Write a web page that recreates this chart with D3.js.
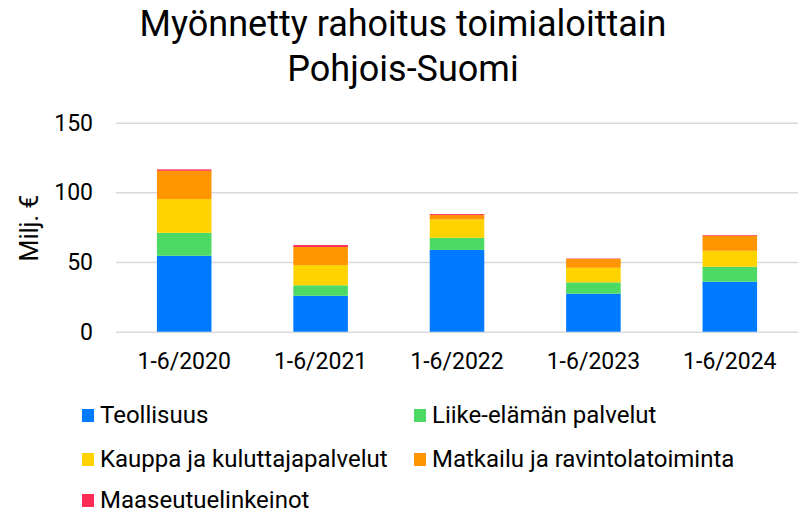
<!DOCTYPE html>
<html>
<head>
  <meta charset="UTF-8">
  <title>Myönnetty rahoitus toimialoittain</title>
  <style>
    body { margin: 0; padding: 0; background: #fff; font-family: Roboto, Arial, sans-serif; }
    svg { display: block; }
  </style>
</head>
<body>
  <svg width="802" height="514"></svg>

  <script src="https://d3js.org/d3.v7.min.js"></script>
  <script>
    // data (milj. €)
    let periods = ["1-6/2020", "1-6/2021", "1-6/2022", "1-6/2023", "1-6/2024"];
    let sectors = ["Teollisuus", "Liike-elämän palvelut", "Kauppa ja kuluttajapalvelut",
                   "Matkailu ja ravintolatoiminta", "Maaseutuelinkeinot"];
    let teollisuus = [54.5, 25.8, 58.7, 27.3, 35.9];
    let liike      = [16.5, 7.5, 8.7, 8.1, 10.7];
    let kauppa     = [24.2, 14.5, 13.2, 10.5, 11.5];
    let matkailu   = [20.3, 13.0, 3.1, 6.3, 10.8];
    let maaseutu   = [1.0, 1.4, 0.7, 0.3, 0.5];
    let yTicks = [0, 50, 100, 150];
    let colors = ["#007bff", "#4cd964", "#ffd300", "#ff9500", "#ff2d55"];

    let series = [teollisuus, liike, kauppa, matkailu, maaseutu];
    let rows = periods.map((p, i) => {
      let r = { period: p };
      sectors.forEach((s, j) => r[s] = series[j][i]);
      return r;
    });

    let svg = d3.select("svg");
    let plotLeft = 116, plotRight = 798, plotTop = 122.7, plotBottom = 331.7;

    let x = d3.scaleBand().domain(periods).range([plotLeft, plotRight])
        .paddingInner(0.6).paddingOuter(0.3);
    let y = d3.scaleLinear().domain([0, 150]).range([plotBottom, plotTop]);
    let color = d3.scaleOrdinal().domain(sectors).range(colors);

    // title
    svg.append("text")
        .attr("x", 403).attr("y", 36)
        .attr("text-anchor", "middle")
        .style("font-size", "36px")
        .text("Myönnetty rahoitus toimialoittain");
    svg.append("text")
        .attr("x", 403).attr("y", 81)
        .attr("text-anchor", "middle")
        .style("font-size", "36px")
        .text("Pohjois-Suomi");

    // gridlines
    svg.append("g")
        .attr("transform", "translate(" + plotLeft + ",0)")
        .call(d3.axisLeft(y).tickValues(yTicks).tickSize(-(plotRight - plotLeft)).tickFormat(""))
        .call(g => g.select(".domain").remove())
        .call(g => g.selectAll("line").attr("stroke", "#d9d9d9").attr("stroke-width", 1.5));

    // y tick labels
    svg.append("g")
        .selectAll("text")
        .data(yTicks)
        .enter()
        .append("text")
        .attr("x", 93)
        .attr("y", d => y(d))
        .attr("dy", "0.35em")
        .attr("text-anchor", "end")
        .style("font-size", "23px")
        .text(d => d);

    // stacked bars
    let stack = d3.stack().keys(sectors)(rows);
    svg.append("g")
        .selectAll("g")
        .data(stack)
        .enter()
        .append("g")
        .attr("fill", d => color(d.key))
        .selectAll("rect")
        .data(d => d)
        .enter()
        .append("rect")
        .attr("x", d => x(d.data.period))
        .attr("width", x.bandwidth())
        .attr("y", d => y(d[1]))
        .attr("height", d => y(d[0]) - y(d[1]));

    // x labels
    svg.append("g")
        .selectAll("text")
        .data(periods)
        .enter()
        .append("text")
        .attr("x", d => x(d) + x.bandwidth() / 2)
        .attr("y", 369)
        .attr("text-anchor", "middle")
        .style("font-size", "23px")
        .text(d => d);

    // y axis title
    svg.append("text")
        .attr("transform", "translate(38,228) rotate(-90)")
        .attr("text-anchor", "middle")
        .style("font-size", "25px")
        .text("Milj. €");

    // legend
    let legendPos = [[82, 415], [414, 415], [82, 459], [414, 459], [82, 500]];
    let legend = svg.append("g")
        .selectAll("g")
        .data(sectors)
        .enter()
        .append("g")
        .attr("transform", (d, i) => "translate(" + legendPos[i][0] + "," + legendPos[i][1] + ")");
    legend.append("rect")
        .attr("x", 0).attr("y", -6)
        .attr("width", 12).attr("height", 13)
        .attr("fill", d => color(d));
    legend.append("text")
        .attr("x", 18).attr("y", 0)
        .attr("dy", "0.35em")
        .style("font-size", "24px")
        .text(d => d);
  </script>
</body>
</html>
